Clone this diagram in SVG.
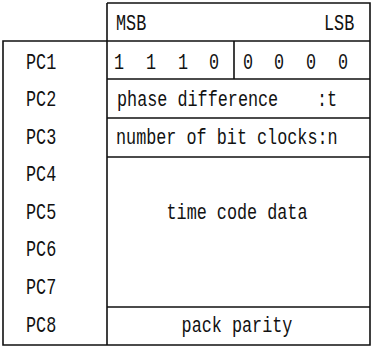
<svg xmlns="http://www.w3.org/2000/svg" width="373" height="353" viewBox="0 0 373 353">
<style>
.ln{stroke:#111;stroke-width:1.6;fill:none}
.t{font-family:"Liberation Mono","DejaVu Sans Mono",monospace;font-size:16.8px;fill:#111}
.m{text-anchor:middle}
</style>
<rect width="373" height="353" fill="#fff"/>
<g id="frame">
<path class="ln" d="M107,3 H370 V345 H3 V41 H370 M107,3 V345 M107,79 H370 M107,118 H370 M107,157 H370 M107,307 H370 M234,41 V79"/>
</g>
<g id="header">
<text class="t" transform="translate(116,30) scale(1,1.3)">MSB</text>
<text class="t" transform="translate(324,30) scale(1,1.3)">LSB</text>
</g>
<g id="labels">
<text class="t" transform="translate(26,69) scale(1,1.3)">PC1</text>
<text class="t" transform="translate(26,106) scale(1,1.3)">PC2</text>
<text class="t" transform="translate(26,144) scale(1,1.3)">PC3</text>
<text class="t" transform="translate(26,181) scale(1,1.3)">PC4</text>
<text class="t" transform="translate(26,219) scale(1,1.3)">PC5</text>
<text class="t" transform="translate(26,256) scale(1,1.3)">PC6</text>
<text class="t" transform="translate(26,294) scale(1,1.3)">PC7</text>
<text class="t" transform="translate(26,332) scale(1,1.3)">PC8</text>
</g>
<g id="pc1">
<text class="t m" transform="translate(119,69) scale(1,1.3)">1</text>
<text class="t m" transform="translate(151,69) scale(1,1.3)">1</text>
<text class="t m" transform="translate(183,69) scale(1,1.3)">1</text>
<text class="t m" transform="translate(214,69) scale(1,1.3)">0</text>
<text class="t m" transform="translate(248,69) scale(1,1.3)">0</text>
<text class="t m" transform="translate(279,69) scale(1,1.3)">0</text>
<text class="t m" transform="translate(311,69) scale(1,1.3)">0</text>
<text class="t m" transform="translate(343,69) scale(1,1.3)">0</text>
</g>
<g id="pc2">
<text class="t" transform="translate(117,106) scale(1,1.3)">phase difference</text>
<text class="t" transform="translate(317,106) scale(1,1.3)">:t</text>
</g>
<g id="pc3">
<text class="t" transform="translate(116,144) scale(1,1.3)">number of bit clocks:n</text>
</g>
<g id="pc4-7">
<text class="t m" transform="translate(237,219) scale(1,1.3)">time code data</text>
</g>
<g id="pc8">
<text class="t m" transform="translate(237,332) scale(1,1.3)">pack parity</text>
</g>
</svg>
